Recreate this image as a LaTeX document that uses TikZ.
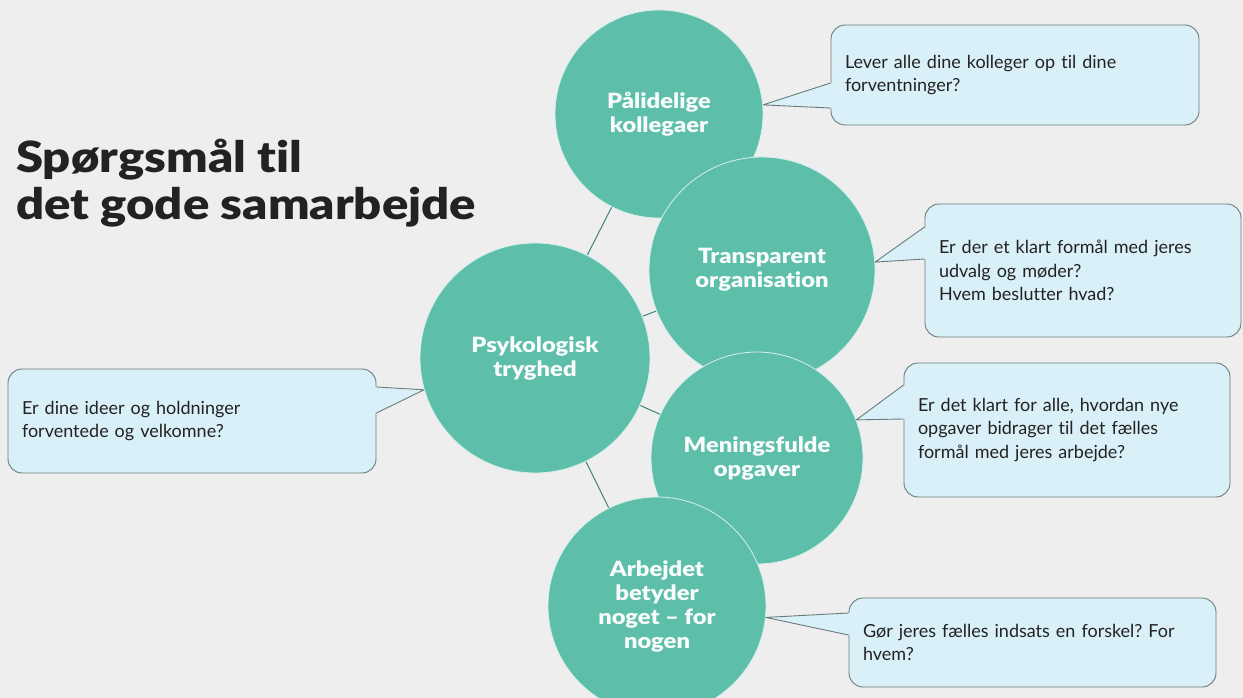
\documentclass[tikz,border=0pt]{standalone}
\usepackage{fontspec}
\setmainfont{Lato}[Ligatures=NoCommon]
\newfontfamily\headfont{Lato Black}[FakeStretch=1.14, Ligatures=NoCommon]
\newfontfamily\topicfont{Lato Black}[FakeStretch=1.13, Ligatures=NoCommon]
\usetikzlibrary{calc}
\frenchspacing

\definecolor{bgcol}{HTML}{EEEEEE}
\definecolor{tealcol}{HTML}{5DBEAA}
\definecolor{linkcol}{HTML}{3A8677}
\definecolor{notefill}{HTML}{DAF0F8}
\definecolor{noteline}{HTML}{6A7B7B}
\definecolor{inkcol}{HTML}{222222}

\pgfdeclarelayer{bg}
\pgfsetlayers{bg,main}

\tikzset{
  topic/.style={circle, fill=tealcol, draw=white!75!tealcol, line width=0.8pt, inner sep=0pt,
    text=white!96!tealcol, align=center, font=\topicfont\fontsize{21}{24}\selectfont},
  note/.style={rectangle, rounded corners=14pt, fill=notefill, draw=noteline, line width=0.9pt,
    inner xsep=14pt, inner ysep=0pt, align=left, text=inkcol, font=\fontsize{18}{23.5}\selectfont},
  link/.style={draw=linkcol, line width=1pt},
  tail/.style={fill=notefill},
  tailedge/.style={draw=noteline, line width=0.9pt, line join=round},
  heading/.style={anchor=base west, inner sep=0pt, text=inkcol, font=\headfont\fontsize{43}{46}\selectfont}
}

\begin{document}
\begin{tikzpicture}[x=1pt,y=-1pt]
\useasboundingbox (0,0) rectangle (1243,698);

% title
\node[heading] (title1) at (16,173) {Spørgsmål til};
\node[heading] (title2) at (16,219) {det gode samarbejde};

% circles
\node[topic, minimum size=208pt] (pal) at (659,114) {Pålidelige\\kollegaer};
\node[topic, minimum size=226pt] (trans) at (762,270) {Transparent\\organisation};
\node[topic, minimum size=212pt] (mening) at (757,458) {Meningsfulde\\opgaver};
\node[topic, minimum size=218pt] (arb) at (657,606) {Arbejdet\\betyder\\noget – for\\nogen};
\node[topic, minimum size=230pt] (psy) at (535,358) {Psykologisk\\tryghed};

\begin{pgfonlayer}{bg}
\fill[bgcol] (0,0) rectangle (1243,698);
\draw[link] (psy) -- (pal);
\draw[link] (psy) -- (trans);
\draw[link] (psy) -- (mening);
\draw[link] (psy) -- (arb);
\end{pgfonlayer}

% questions
\node[note, minimum width=368pt, minimum height=100pt, text width=340pt] (q1) at (1015,75)
  {Lever alle dine kolleger op til dine\\forventninger?};
\fill[tail] ($(q1.west)+(1.5,8)$) -- (pal.5) -- ($(q1.west)+(1.5,33)$) -- cycle;
\draw[tailedge] ($(q1.west)+(0,8)$) -- (pal.5) -- ($(q1.west)+(0,33)$);

\node[note, minimum width=316pt, minimum height=133pt, text width=288pt] (q2) at (1083,270.5)
  {Er der et klart formål med jeres\\udvalg og møder?\\Hvem beslutter hvad?};
\fill[tail] ($(q2.west)+(1.5,-43.5)$) -- (trans.4) -- ($(q2.west)+(1.5,-11.5)$) -- cycle;
\draw[tailedge] ($(q2.west)+(0,-43.5)$) -- (trans.4) -- ($(q2.west)+(0,-11.5)$);

\node[note, minimum width=368pt, minimum height=104pt, text width=340pt] (q3) at (192,421)
  {Er dine ideer og holdninger\\forventede og velkomne?};
\fill[tail] ($(q3.east)+(-1.5,-34)$) -- (psy.196) -- ($(q3.east)+(-1.5,-8)$) -- cycle;
\draw[tailedge] ($(q3.east)+(0,-34)$) -- (psy.196) -- ($(q3.east)+(0,-8)$);

\node[note, minimum width=326pt, minimum height=134pt, text width=298pt] (q4) at (1067,430)
  {Er det klart for alle, hvordan nye\\opgaver bidrager til det fælles\\formål med jeres arbejde?};
\fill[tail] ($(q4.west)+(1.5,-45)$) -- (mening.21) -- ($(q4.west)+(1.5,-11)$) -- cycle;
\draw[tailedge] ($(q4.west)+(0,-45)$) -- (mening.21) -- ($(q4.west)+(0,-11)$);

\node[note, minimum width=367pt, minimum height=89pt, text width=339pt] (q5) at (1032.5,642.5)
  {Gør jeres fælles indsats en forskel? For\\hvem?};
\fill[tail] ($(q5.west)+(1.5,-29.5)$) -- (arb.-6) -- ($(q5.west)+(1.5,-7.5)$) -- cycle;
\draw[tailedge] ($(q5.west)+(0,-29.5)$) -- (arb.-6) -- ($(q5.west)+(0,-7.5)$);
\end{tikzpicture}
\end{document}
